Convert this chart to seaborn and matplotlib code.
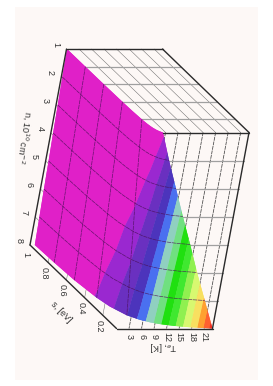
"""
Electron temperature surface T_e(n, s), drawn as a box seen in parallel projection
and turned a quarter of a turn, the way it sits on the scanned page.
"""

import numpy as np
import matplotlib
matplotlib.use("Agg")
import matplotlib.pyplot as plt
import seaborn as sns

# --- DATA ---
n_values = [1, 2, 3, 4, 5, 6, 7, 8]
s_values = [1.0, 0.8, 0.6, 0.4, 0.3, 0.2, 0.15, 0.12, 0.1, 0.08, 0.065, 0.05]
# one row per n, one value per s
t_n1 = [0.12, 0.15, 0.2, 0.3, 0.4, 0.6, 0.8, 1.0, 1.2, 1.5, 1.85, 2.4]
t_n2 = [0.25, 0.32, 0.42, 0.64, 0.85, 1.3, 1.7, 2.1, 2.55, 3.2, 3.9, 5.1]
t_n3 = [0.4, 0.5, 0.67, 1.0, 1.35, 2.0, 2.7, 3.3, 4.0, 5.0, 6.2, 8.0]
t_n4 = [0.54, 0.68, 0.9, 1.35, 1.8, 2.7, 3.6, 4.5, 5.4, 6.8, 8.3, 10.9]
t_n5 = [0.7, 0.87, 1.15, 1.75, 2.3, 3.5, 4.6, 5.8, 6.9, 8.7, 10.7, 13.9]
t_n6 = [0.84, 1.05, 1.4, 2.1, 2.8, 4.2, 5.6, 7.0, 8.4, 10.5, 12.9, 16.8]
t_n7 = [1.0, 1.25, 1.65, 2.5, 3.3, 5.0, 6.6, 8.2, 9.9, 12.4, 15.2, 19.9]
t_n8 = [1.15, 1.44, 1.9, 2.9, 3.85, 5.75, 7.7, 9.6, 11.5, 14.4, 17.7, 23.0]
t_ticks = [3, 6, 9, 12, 15, 18, 21]
s_ticks = [1, 0.8, 0.6, 0.4, 0.2]
s_tick_labels = ["1", "0.8", "0.6", "0.4", "0.2"]
band_levels = [0, 2.8, 4.3, 5.8, 7.3, 8.8, 10.3, 11.8, 13.3, 14.8, 16.4, 18.0, 19.6, 21.0, 22.3, 23]
band_colors = ["#e020c8", "#9a28d0", "#6a30c0", "#4c34bc", "#4a70f0", "#90d0c0", "#70e080",
               "#20e010", "#40e830", "#90f050", "#d8f870", "#f8e060", "#ffa030", "#ff6030",
               "#f03020"]

N_MIN, N_MAX = 1, 8
S_MIN, S_MAX = 0.05, 1
T_MIN, T_MAX = 0, 23


def project(n, s, t):
    """Parallel projection of (n, s, T) to page pixels."""
    n, s, t = np.asarray(n, float), np.asarray(s, float), np.asarray(t, float)
    fn = (n - N_MIN) / (N_MAX - N_MIN)
    fs = (S_MAX - s) / (S_MAX - S_MIN)
    ft = (t - T_MIN) / (T_MAX - T_MIN)
    return 66.5 - 36.5 * fn + 86.5 * fs + 96 * ft, 49 + 196 * fn + 83.5 * fs


sns.set_theme(style="white")
plt.rcParams["font.family"] = ["Liberation Sans", "DejaVu Sans"]

fig = plt.figure(figsize=(2.73, 3.86), dpi=100, facecolor="white")
ax = fig.add_axes([0, 0, 1, 1])
ax.set_xlim(0, 273)
ax.set_ylim(386, 0)
ax.axis("off")
ax.add_patch(plt.Rectangle((15, 7), 243, 373, color="#fdf8f6", lw=0, zorder=0))


def line3(ns, ss, ts, **kw):
    x, y = project(ns, ss, ts)
    ax.plot(x, y, solid_capstyle="round", **kw)


thin = dict(color="#666666", lw=0.35, zorder=1)
thick = dict(color="#a0a0a0", lw=0.9, zorder=1)
dash = dict(color="#444444", lw=0.55, ls=(0, (5, 1)), zorder=1)

# back walls
for t in t_ticks:
    line3([N_MIN, N_MIN], [S_MAX, S_MIN], [t, t], **thin)
    line3([N_MIN, N_MAX], [S_MIN, S_MIN], [t, t], **dash)
for s in s_ticks[1:]:
    line3([N_MIN, N_MIN], [s, s], [T_MIN, T_MAX], **thick)
    line3([N_MAX, N_MIN], [s, s], [T_MIN, T_MIN], **thin)
for n in n_values[1:-1]:
    line3([n, n], [S_MIN, S_MIN], [T_MIN, T_MAX], **thick)
    line3([n, n], [S_MAX, S_MIN], [T_MIN, T_MIN], **thin)

# surface
t_table = np.array([t_n1, t_n2, t_n3, t_n4, t_n5, t_n6, t_n7, t_n8])
nn, ss = np.meshgrid(n_values, s_values, indexing="ij")
px, py = project(nn, ss, t_table)
palette = sns.color_palette(band_colors)
ax.contourf(px, py, t_table, levels=band_levels, colors=palette, zorder=2, antialiased=True)
ax.contourf(px, py, t_table, levels=band_levels, colors=palette, zorder=2, antialiased=True)

grid = dict(color="#4a1058", lw=0.5, alpha=0.8, zorder=3)
for i, n in enumerate(n_values):
    if 0 < i < len(n_values) - 1:
        ax.plot(px[i], py[i], ls=(0, (6, 1)), **grid)
for s in s_ticks[1:]:
    j = s_values.index(s)
    ax.plot(px[:, j], py[:, j], ls=(0, (6, 1)), **grid)

# box outline
edges = dict(color="#2a2a2a", lw=1.0, zorder=4)
line3([N_MIN, N_MAX], [S_MAX, S_MAX], [T_MIN, T_MIN], **edges)
line3([N_MAX, N_MAX], [S_MAX, S_MIN], [T_MIN, T_MIN], **edges)
line3([N_MAX, N_MAX], [S_MIN, S_MIN], [T_MIN, T_MAX], **edges)
line3([N_MAX, N_MIN], [S_MIN, S_MIN], [T_MAX, T_MAX], **edges)
line3([N_MIN, N_MIN], [S_MIN, S_MAX], [T_MAX, T_MAX], **edges)
line3([N_MIN, N_MIN], [S_MAX, S_MAX], [T_MAX, T_MIN], **edges)
line3([N_MIN, N_MIN], [S_MIN, S_MIN], [T_MIN + 2.4, T_MAX], **edges)

# tick labels, all turned with the page
txt = dict(color="#333333", fontsize=6.5, ha="center", va="center", zorder=5)
for n in n_values:
    x, y = project(n, S_MAX, T_MIN)
    ax.text(x - 11, y - 4, str(n), rotation=-90, **txt)
for s, lab in zip(s_ticks[1:], s_tick_labels[1:]):
    x, y = project(N_MAX, s, T_MIN)
    ax.text(x - 4, y + 10.5, lab, rotation=-90, **txt)
ax.text(26, 255, "1", rotation=-90, **txt)
for t in t_ticks:
    x, y = project(N_MAX, S_MIN, t)
    ax.text(x, y + 8, str(t), rotation=-90, **txt)

ax.text(24, 137, r"n, 10$^{10}$ cm$^{-2}$", rotation=-99, color="#333333", fontsize=6.5,
        ha="center", va="center", zorder=5)
ax.text(61, 312, "s, [eV]", rotation=-46, color="#333333", fontsize=6.5,
        ha="center", va="center", zorder=5)
ax.text(163, 347, r"T$_e$, [K]", rotation=180, color="#333333", fontsize=6.5,
        ha="center", va="center", zorder=5)

fig.savefig("out.png", dpi=100, facecolor="white")
plt.close(fig)
